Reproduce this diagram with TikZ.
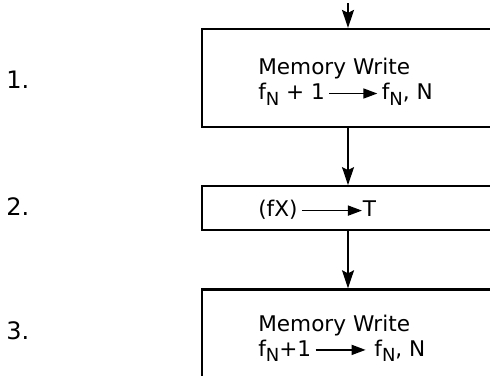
\documentclass[tikz,border=0pt]{standalone}
\usepackage{fontspec}
\setmainfont{DejaVu Sans}
\usetikzlibrary{arrows.meta,positioning}

\newcommand{\lowsub}[1]{\raisebox{-2.8pt}{\fontsize{9}{9}\selectfont #1}}
\newcommand{\rarr}[1]{\tikz[baseline=-3.2pt]\draw[line width=0.8pt,-{Triangle[length=7pt,width=5pt]}] (0,0) -- (#1,0);}

\begin{document}
\begin{tikzpicture}[x=0.5pt, y=-0.5pt, node distance=28.5pt,
      box/.style={draw, line width=1.1pt, minimum width=146pt, inner sep=0pt},
      txt/.style={anchor=west, align=left, inner sep=0pt, font=\fontsize{10.8}{12.5}\selectfont},
      num/.style={anchor=west, inner sep=0pt, font=\fontsize{12}{14}\selectfont},
      arr/.style={-{Stealth[length=9pt,width=6pt,inset=1.5pt]}, line width=0.8pt}]
    \useasboundingbox (0,0) rectangle (490,375);
    \clip (0,0) rectangle (490,375);
    % the three steps
    \node[box, minimum height=49pt] (mw1) at (348,78) {};
    \node[box, minimum height=22pt, below=of mw1] (fx) {};
    \node[box, minimum height=49pt, below=of fx] (mw2) {};
    \node[txt] (mw1t) at ([xshift=28.5pt,yshift=-2pt]mw1.west) {Memory Write\\f\lowsub{N} + 1\,\rarr{24pt}\,f\lowsub{N}, N};
    \node[txt] (fxt) at ([xshift=28.5pt,yshift=-1pt]fx.west) {(fX)\,\rarr{30pt}T};
    \node[txt] (mw2t) at ([xshift=28.5pt]mw2.west) {Memory Write\\f\lowsub{N}+1\,\rarr{25pt}\hspace{4pt}f\lowsub{N}, N};
    % step numbers
    \node[num] (n1) at (6,80) {1.};
    \node[num] (n2) at (6,207) {2.};
    \node[num] (n3) at (6,331) {3.};
    % flow
    \coordinate (entry) at (348,3);
    \draw[arr] (entry) -- (mw1);
    \draw[arr] (mw1) -- (fx);
    \draw[arr] (fx) -- (mw2);
  \end{tikzpicture}
\end{document}
